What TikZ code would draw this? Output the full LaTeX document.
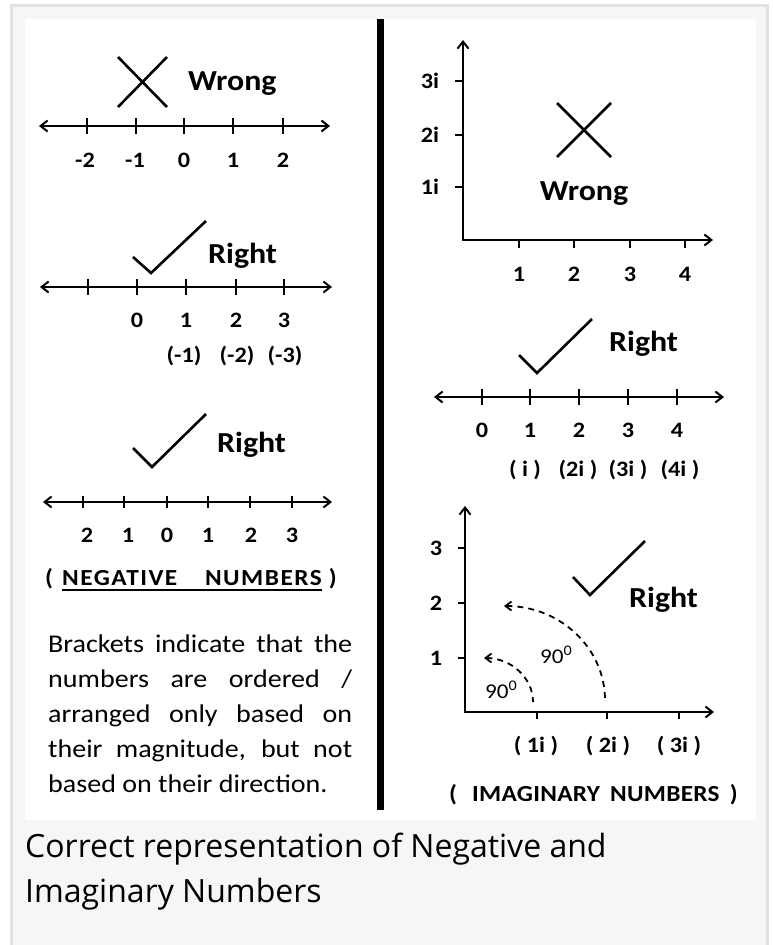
\documentclass[tikz,border=0pt]{standalone}
\usepackage{fontspec}
\usetikzlibrary{arrows.meta}
\newfontfamily\dia{Carlito}[FakeStretch=1.1]
\newfontfamily\diacapsA{Carlito}[FakeStretch=1.1, LetterSpace=6.5]
\newfontfamily\diacapsB{Carlito}[FakeStretch=1.1, LetterSpace=1.2]
\newfontfamily\capf{Open Sans}
\definecolor{framegray}{HTML}{E2E2E2}
\definecolor{cardgray}{HTML}{F6F6F6}
\begin{document}
\begin{tikzpicture}[x=1pt,y=-1pt,
  >={Straight Barb[length=7pt,width=11pt]},
  ax/.style={line width=2pt},
  tk/.style={line width=1.8pt},
  sym/.style={line width=2.6pt},
  lbl/.style={font=\dia\bfseries\fontsize{22}{26}\selectfont, inner sep=0pt, anchor=base},
  ttl/.style={font=\dia\bfseries\fontsize{23}{27}\selectfont, inner sep=0pt, anchor=base west},
  word/.style={font=\dia\bfseries\fontsize{29}{34}\selectfont, inner sep=0pt, anchor=base west},
  para/.style={font=\dia\fontsize{25.5}{35}\selectfont, inner sep=0pt, anchor=base west},
  ang/.style={font=\dia\fontsize{21}{24}\selectfont, inner sep=0pt, anchor=base west},
  dsh/.style={line width=1.8pt, dash pattern=on 6pt off 5pt},
  captxt/.style={font=\capf\fontsize{32}{45}\selectfont, inner sep=0pt, anchor=base west}]

\useasboundingbox (0,0) rectangle (772,945);
\clip (0,0) rectangle (772,945);
\fill[white] (0,0) rectangle (772,945);
\draw[line width=3pt, draw=framegray, fill=cardgray] (11.5,5.5) rectangle (767.5,990);
\fill[white] (25,19) rectangle (756,820);
\fill[black] (377,19) rectangle (384,810);

% ---------- left panel 1 (wrong) ----------
\draw[sym] (118,57) -- (167,107) (118,107) -- (167,57);
\node[word] (w1) at (188,90) {Wrong};
\draw[ax,<->] (39,126) -- (330,126);
\foreach \x in {87,136,184,233,283} \draw[tk] (\x,118) -- (\x,134);
\node[lbl] (l1a) at (85,167) {-2};
\node[lbl] (l1b) at (135,167) {-1};
\node[lbl] (l1c) at (184,167) {0};
\node[lbl] (l1d) at (233,167) {1};
\node[lbl] (l1e) at (283,167) {2};

% ---------- left panel 2 (right) ----------
\draw[sym] (133,257) -- (151,273) -- (206,221);
\node[word] (r1) at (208,263) {Right};
\draw[ax,<->] (40,287) -- (332,287);
\foreach \x in {88,137,186,236,284} \draw[tk] (\x,279) -- (\x,295);
\node[lbl] (l2a) at (137,327) {0};
\node[lbl] (l2b) at (186,327) {1};
\node[lbl] (l2c) at (236,327) {2};
\node[lbl] (l2d) at (284,327) {3};
\node[lbl] (l2e) at (184,362) {(-1)};
\node[lbl] (l2f) at (237,362) {(-2)};
\node[lbl] (l2g) at (285,362) {(-3)};

% ---------- left panel 3 (right) ----------
\draw[sym] (133,448) -- (152,467) -- (206,414);
\node[word] (r2) at (217,452) {Right};
\draw[ax,<->] (43,502) -- (332,502);
\foreach \x in {83,124,167,208,250,292} \draw[tk] (\x,496) -- (\x,508);
\node[lbl] (l3a) at (87,542) {2};
\node[lbl] (l3b) at (128,542) {1};
\node[lbl] (l3c) at (167,542) {0};
\node[lbl] (l3d) at (208,542) {1};
\node[lbl] (l3e) at (251,542) {2};
\node[lbl] (l3f) at (292,542) {3};

\node[ttl] (negL) at (45,585) {(};
\node[ttl, font=\diacapsA\bfseries\fontsize{23}{27}\selectfont] (negA) at (62,585) {NEGATIVE};
\node[ttl, font=\diacapsA\bfseries\fontsize{23}{27}\selectfont, anchor=base east] (negB) at (322,585) {NUMBERS};
\node[ttl, anchor=base east] (negR) at (337,585) {)};
\draw[line width=1.5pt] (negA.south west |- 0,590) -- (negB.south east |- 0,590);

\node[para] (p1) at (48,652) {\makebox[304pt][s]{Brackets indicate that the}};
\node[para] (p2) at (48,687) {\makebox[304pt][s]{numbers are ordered /}};
\node[para] (p3) at (48,722) {\makebox[304pt][s]{arranged only based on}};
\node[para] (p4) at (48,757) {\makebox[304pt][s]{their magnitude, but not}};
\node[para] (p5) at (48,792) {based on their direction.};

% ---------- right panel 1 (wrong) ----------
\draw[ax,<->,line join=miter] (463,40) -- (463,240) -- (713,240);
\foreach \y in {81,135,187} \draw[tk] (455,\y) -- (463,\y);
\foreach \x in {519,574,630,685} \draw[tk] (\x,240) -- (\x,248);
\node[lbl] (y1a) at (430,88) {3i};
\node[lbl] (y1b) at (430,142) {2i};
\node[lbl] (y1c) at (430,194) {1i};
\node[lbl] (x1a) at (519,281) {1};
\node[lbl] (x1b) at (574,281) {2};
\node[lbl] (x1c) at (630,281) {3};
\node[lbl] (x1d) at (685,281) {4};
\draw[sym] (557,103) -- (611,157) (611,103) -- (557,157);
\node[word, anchor=base] (w2) at (584,200) {Wrong};

% ---------- right panel 2 (right) ----------
\draw[sym] (519,355) -- (537,373) -- (592,319);
\node[word] (r3) at (609,351) {Right};
\draw[ax,<->] (434,397) -- (724,397);
\foreach \x in {482,530,579,628,677} \draw[tk] (\x,389) -- (\x,405);
\node[lbl] (n2a) at (482,437) {0};
\node[lbl] (n2b) at (530,437) {1};
\node[lbl] (n2c) at (579,437) {2};
\node[lbl] (n2d) at (628,437) {3};
\node[lbl] (n2e) at (677,437) {4};
\node[lbl] (i2a) at (525,476) {( i )};
\node[lbl] (i2b) at (578,476) {(2i )};
\node[lbl] (i2c) at (628,476) {(3i )};
\node[lbl] (i2d) at (680,476) {(4i )};

% ---------- right panel 3 (right) ----------
\draw[ax,<->,line join=miter] (465,506) -- (465,712) -- (714,712);
\foreach \y in {548,603,658} \draw[tk] (458,\y) -- (465,\y);
\foreach \x in {537,607,679} \draw[tk] (\x,712) -- (\x,719);
\node[lbl] (y3a) at (436,555) {3};
\node[lbl] (y3b) at (436,610) {2};
\node[lbl] (y3c) at (436,665) {1};
\node[lbl] (x3a) at (536,752) {( 1i )};
\node[lbl] (x3b) at (608,752) {( 2i )};
\node[lbl] (x3c) at (679,752) {( 3i )};
\draw[sym] (573,577) -- (590,595) -- (645,541);
\node[word] (r4) at (629,607) {Right};
\draw[dsh,{Straight Barb[length=6pt,width=9pt]}-] (484,658) .. controls (511,658) and (533,677.7) .. (533,702);
\draw[dsh,{Straight Barb[length=6pt,width=9pt]}-] (504,606) .. controls (560,606) and (605,648) .. (605,700);
\node[ang] (a1) at (485,698) {90\textsuperscript{0}};
\node[ang] (a2) at (540,663) {90\textsuperscript{0}};
\node[ttl] (imL) at (449,801) {(};
\node[ttl, font=\diacapsB\bfseries\fontsize{23}{27}\selectfont] (imA) at (472,801) {IMAGINARY};
\node[ttl, font=\diacapsB\bfseries\fontsize{23}{27}\selectfont] (imB) at (610,801) {NUMBERS};
\node[ttl, anchor=base east] (imR) at (738,801) {)};

% ---------- caption ----------
\node[captxt] (c1) at (25,857) {Correct representation of Negative and};
\node[captxt] (c2) at (25,902) {Imaginary Numbers};
\end{tikzpicture}
\end{document}
